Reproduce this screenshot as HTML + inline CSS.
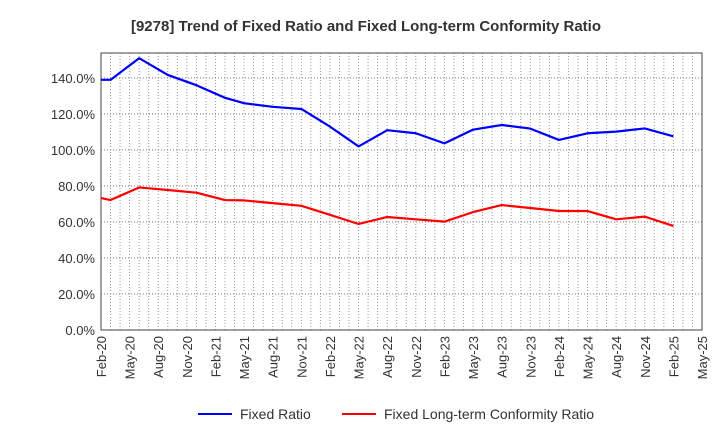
<!DOCTYPE html>
<html><head><meta charset="utf-8"><style>
body{margin:0;background:#fff;font-family:"Liberation Sans",sans-serif}
</style></head><body>
<svg width="720" height="440" xmlns="http://www.w3.org/2000/svg" font-family="Liberation Sans, sans-serif">
<text x="366" y="31" text-anchor="middle" font-size="15" font-weight="bold" fill="#333">[9278]  Trend of Fixed Ratio and Fixed Long-term Conformity Ratio</text>
<g id="grid"></g>
<g id="axes"></g>
<g id="series"></g>
<g>
<line x1="198" y1="414" x2="232" y2="414" stroke="#0000ff" stroke-width="2"/>
<text x="240" y="419" font-size="14" fill="#333">Fixed Ratio</text>
<line x1="342" y1="414" x2="376" y2="414" stroke="#ff0000" stroke-width="2"/>
<text x="384" y="419" font-size="14" fill="#333">Fixed Long-term Conformity Ratio</text>
</g>
</svg>
<script>
const months=[0,1,4,7,10,13,15,18,21,24,27,30,33,36,39,42,45,48,51,54,57,60];
const fixedRatio=[139,139,151,141.7,136,129,126,124,122.8,113,102,111,109.3,103.7,111.3,113.9,111.9,105.6,109.3,110.2,112,107.6];
const conformityRatio=[73.3,72.2,79.2,77.8,76.3,72.2,72,70.5,69,64,58.9,62.8,61.5,60.2,65.5,69.4,67.8,66.1,66.1,61.5,63,57.8];
const yTicks=[0,20,40,60,80,100,120,140];
const xTickLabels=["Feb-20","May-20","Aug-20","Nov-20","Feb-21","May-21","Aug-21","Nov-21","Feb-22","May-22","Aug-22","Nov-22","Feb-23","May-23","Aug-23","Nov-23","Feb-24","May-24","Aug-24","Nov-24","Feb-25","May-25"];
const L=101,R=702,T=53,B=330,yMax=153.9,mMax=63;
const ns="http://www.w3.org/2000/svg";
const X=m=>L+(R-L)*m/mMax, Y=v=>B-(B-T)*v/yMax;
function mk(tag,attrs,parent){const e=document.createElementNS(ns,tag);for(const k in attrs)e.setAttribute(k,attrs[k]);document.getElementById(parent).appendChild(e);return e;}
for(let m=1;m<mMax;m++){const g=mk('line',{x1:X(m),x2:X(m),y1:T,y2:B,stroke:'#999','stroke-dasharray':'1,2','stroke-width':1},'grid');

}
yTicks.forEach(v=>{if(v>0){const g=mk('line',{x1:L,x2:R,y1:Y(v),y2:Y(v),stroke:'#777','stroke-dasharray':'1,2','stroke-width':1},'grid');

}
const t=mk('text',{x:L-6,y:Y(v)+5,'text-anchor':'end','font-size':13,fill:'#333'},'axes');t.textContent=v.toFixed(1)+'%';

});
xTickLabels.forEach((s,i)=>{const x=X(i*3);const t=mk('text',{x:x+5,y:B+6,'text-anchor':'end','font-size':13,fill:'#333',transform:`rotate(-90 ${x+5} ${B+6})`},'axes');t.textContent=s;

});
const fr=mk('rect',{x:L,y:T,width:R-L,height:B-T,fill:'none',stroke:'#444','stroke-width':1},'axes');


function line(vals,color,name){const p=mk('polyline',{points:vals.map((v,i)=>X(months[i])+','+Y(v)).join(' '),fill:'none',stroke:color,'stroke-width':2.2,'stroke-linejoin':'round'},'series');

}
line(fixedRatio,'#0000ff','fixed-ratio-line');
line(conformityRatio,'#ff0000','conformity-ratio-line');
</script>
</body></html>
